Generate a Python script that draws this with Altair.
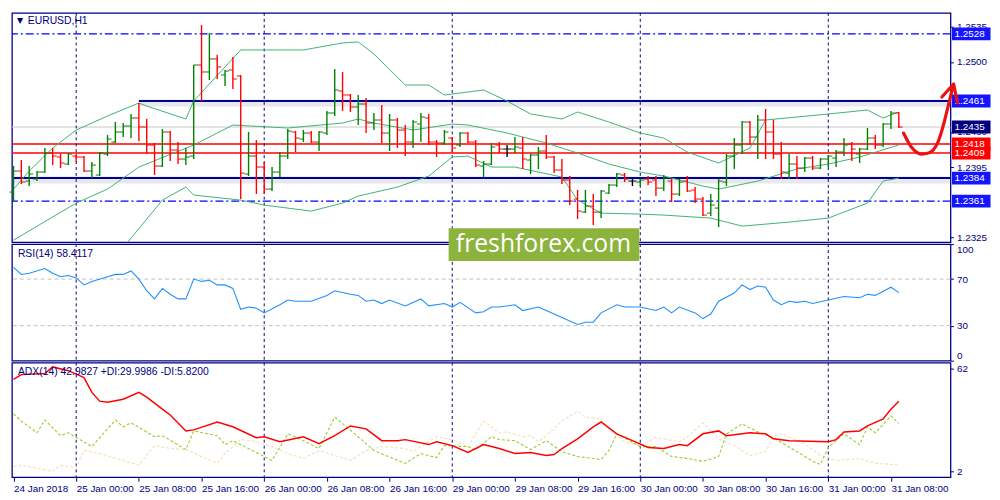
import json
import altair as alt
import pandas as pd

W = 950
H_PRICE, H_RSI, H_ADX = 232, 118, 116
NAVY = "#000080"
FONT = "Liberation Sans"

# ---------------- data ----------------
time_labels = ["24 Jan 2018", "25 Jan 00:00", "25 Jan 08:00", "25 Jan 16:00",
               "26 Jan 00:00", "26 Jan 08:00", "26 Jan 16:00", "29 Jan 00:00",
               "29 Jan 08:00", "29 Jan 16:00", "30 Jan 00:00", "30 Jan 08:00",
               "30 Jan 16:00", "31 Jan 00:00", "31 Jan 08:00"]
label_idx = [0, 8, 16, 24, 32, 40, 48, 56, 64, 72, 80, 88, 96, 104, 112]
day_breaks = [8, 32, 56, 80, 104]

bar_open = [1.2370, 1.2391, 1.2381, 1.2383, 1.2390, 1.2409, 1.2405, 1.2398, 1.2406, 1.2405,
            1.2391, 1.2387, 1.2408, 1.2420, 1.2430, 1.2436, 1.2444, 1.2435, 1.2417, 1.2396,
            1.2430, 1.2412, 1.2403, 1.2406, 1.2497, 1.2490, 1.2503, 1.2487, 1.2492, 1.2486,
            1.2388, 1.2406, 1.2395, 1.2373, 1.2390, 1.2406, 1.2430, 1.2423, 1.2429, 1.2420,
            1.2429, 1.2449, 1.2471, 1.2467, 1.2455, 1.2458, 1.2439, 1.2442, 1.2429, 1.2442,
            1.2432, 1.2420, 1.2438, 1.2444, 1.2420, 1.2419, 1.2424, 1.2417, 1.2429, 1.2420,
            1.2396, 1.2398, 1.2417, 1.2413, 1.2413, 1.2414, 1.2402, 1.2407, 1.2411, 1.2405,
            1.2392, 1.2382, 1.2363, 1.2350, 1.2356, 1.2350, 1.2369, 1.2377, 1.2387, 1.2381,
            1.2380, 1.2383, 1.2382, 1.2374, 1.2381, 1.2368, 1.2381, 1.2372, 1.2363, 1.2349,
            1.2354, 1.2380, 1.2406, 1.2417, 1.2440, 1.2425, 1.2442, 1.2430, 1.2408, 1.2389,
            1.2398, 1.2394, 1.2404, 1.2394, 1.2403, 1.2404, 1.2410, 1.2418, 1.2408, 1.2413,
            1.2424, 1.2417, 1.2438, 1.2449]
bar_high = [1.2396, 1.2402, 1.2396, 1.2391, 1.2414, 1.2414, 1.2408, 1.2409, 1.2408, 1.2406,
            1.2400, 1.2410, 1.2427, 1.2440, 1.2439, 1.2448, 1.2459, 1.2443, 1.2419, 1.2433,
            1.2431, 1.2420, 1.2414, 1.2497, 1.2537, 1.2529, 1.2507, 1.2492, 1.2505, 1.2487,
            1.2430, 1.2422, 1.2400, 1.2395, 1.2410, 1.2433, 1.2431, 1.2432, 1.2431, 1.2431,
            1.2451, 1.2493, 1.2490, 1.2468, 1.2467, 1.2464, 1.2449, 1.2457, 1.2448, 1.2444,
            1.2437, 1.2442, 1.2449, 1.2448, 1.2422, 1.2432, 1.2425, 1.2430, 1.2430, 1.2422,
            1.2401, 1.2419, 1.2420, 1.2417, 1.2425, 1.2425, 1.2408, 1.2415, 1.2427, 1.2406,
            1.2403, 1.2386, 1.2372, 1.2372, 1.2368, 1.2372, 1.2378, 1.2389, 1.2389, 1.2383,
            1.2383, 1.2386, 1.2386, 1.2387, 1.2383, 1.2383, 1.2386, 1.2375, 1.2365, 1.2368,
            1.2383, 1.2408, 1.2424, 1.2441, 1.2441, 1.2447, 1.2453, 1.2442, 1.2420, 1.2408,
            1.2406, 1.2405, 1.2406, 1.2404, 1.2407, 1.2412, 1.2424, 1.2420, 1.2414, 1.2434,
            1.2427, 1.2439, 1.2451, 1.2450]
bar_low = [1.2361, 1.2378, 1.2376, 1.2381, 1.2389, 1.2397, 1.2394, 1.2397, 1.2400, 1.2390,
           1.2384, 1.2386, 1.2406, 1.2419, 1.2425, 1.2424, 1.2421, 1.2408, 1.2387, 1.2395,
           1.2401, 1.2398, 1.2397, 1.2403, 1.2461, 1.2482, 1.2483, 1.2476, 1.2473, 1.2363,
           1.2386, 1.2368, 1.2368, 1.2371, 1.2385, 1.2403, 1.2410, 1.2420, 1.2419, 1.2411,
           1.2427, 1.2446, 1.2451, 1.2450, 1.2437, 1.2429, 1.2432, 1.2419, 1.2411, 1.2414,
           1.2406, 1.2414, 1.2420, 1.2417, 1.2405, 1.2417, 1.2410, 1.2415, 1.2419, 1.2395,
           1.2385, 1.2397, 1.2409, 1.2405, 1.2409, 1.2393, 1.2388, 1.2393, 1.2403, 1.2389,
           1.2378, 1.2357, 1.2343, 1.2349, 1.2337, 1.2344, 1.2368, 1.2375, 1.2380, 1.2376,
           1.2376, 1.2377, 1.2366, 1.2371, 1.2360, 1.2366, 1.2370, 1.2359, 1.2346, 1.2346,
           1.2335, 1.2376, 1.2393, 1.2408, 1.2417, 1.2403, 1.2403, 1.2403, 1.2383, 1.2383,
           1.2383, 1.2390, 1.2392, 1.2393, 1.2395, 1.2395, 1.2406, 1.2401, 1.2399, 1.2412,
           1.2413, 1.2415, 1.2433, 1.2434]
bar_close = [1.2391, 1.2380, 1.2388, 1.2390, 1.2409, 1.2406, 1.2399, 1.2408, 1.2405, 1.2391,
             1.2397, 1.2409, 1.2423, 1.2430, 1.2436, 1.2444, 1.2435, 1.2417, 1.2396, 1.2430,
             1.2412, 1.2403, 1.2405, 1.2497, 1.2490, 1.2503, 1.2495, 1.2491, 1.2483, 1.2389,
             1.2406, 1.2395, 1.2373, 1.2390, 1.2406, 1.2431, 1.2424, 1.2429, 1.2420, 1.2430,
             1.2449, 1.2472, 1.2467, 1.2455, 1.2458, 1.2439, 1.2442, 1.2429, 1.2442, 1.2432,
             1.2420, 1.2440, 1.2445, 1.2420, 1.2419, 1.2430, 1.2414, 1.2429, 1.2420, 1.2397,
             1.2398, 1.2415, 1.2413, 1.2413, 1.2415, 1.2403, 1.2407, 1.2411, 1.2405, 1.2392,
             1.2382, 1.2361, 1.2351, 1.2356, 1.2350, 1.2371, 1.2377, 1.2388, 1.2383, 1.2381,
             1.2382, 1.2380, 1.2374, 1.2384, 1.2368, 1.2380, 1.2371, 1.2363, 1.2347, 1.2357,
             1.2381, 1.2406, 1.2417, 1.2440, 1.2425, 1.2442, 1.2430, 1.2408, 1.2390, 1.2398,
             1.2394, 1.2404, 1.2394, 1.2403, 1.2406, 1.2410, 1.2417, 1.2413, 1.2413, 1.2424,
             1.2417, 1.2438, 1.2449, 1.2435]

bb_up_idx = [0, 2, 5, 8, 12, 16, 17, 22, 23, 29, 37, 42, 44, 46, 50, 53, 55, 60, 63, 66,
             70, 72, 76, 80, 83, 86, 90, 94, 96, 104, 109, 111, 113]
bb_up_val = [1.2373, 1.2391, 1.2414, 1.2432, 1.2446, 1.2459, 1.2456, 1.2443, 1.2461, 1.2512,
             1.2512, 1.2519, 1.2520, 1.2508, 1.2477, 1.2477, 1.2467, 1.2472, 1.2461, 1.2448,
             1.2443, 1.2450, 1.2440, 1.2429, 1.2424, 1.2410, 1.2399, 1.2414, 1.2442, 1.2448,
             1.2452, 1.2444, 1.2450]
bb_mid_idx = [0, 8, 12, 16, 23, 28, 35, 42, 44, 46, 51, 56, 58, 63, 68, 72, 76, 80, 83, 88,
              90, 95, 100, 104, 108, 113]
bb_mid_val = [1.2322, 1.2359, 1.2373, 1.2395, 1.2417, 1.2437, 1.2434, 1.2439, 1.2443, 1.2439,
              1.2432, 1.2438, 1.2437, 1.2429, 1.2419, 1.2409, 1.2398, 1.2390, 1.2386, 1.2376,
              1.2373, 1.2381, 1.2393, 1.2398, 1.2405, 1.2417]
bb_low_idx = [13, 19, 22, 23, 29, 32, 38, 42, 44, 49, 53, 56, 58, 61, 64, 70, 72, 75, 80, 83,
              89, 93, 99, 104, 109, 111, 113]
bb_low_val = [1.2305, 1.2362, 1.2375, 1.2367, 1.2362, 1.2357, 1.2351, 1.2359, 1.2366, 1.2375,
              1.2386, 1.2405, 1.2406, 1.2395, 1.2395, 1.2385, 1.2362, 1.2349, 1.2348, 1.2347,
              1.2344, 1.2336, 1.2340, 1.2344, 1.2359, 1.2381, 1.2384]

rsi_idx = [0, 1, 2, 4, 5, 6, 7, 8, 9, 10, 12, 13, 14, 15, 16, 17, 18, 19, 20, 21,
           22, 23, 24, 25, 26, 27, 28, 29, 30, 31, 32, 34, 35, 36, 38, 40, 41, 43, 44, 45,
           46, 47, 48, 50, 52, 53, 55, 56, 57, 59, 60, 61, 62, 64, 65, 67, 68, 70, 72, 73,
           74, 75, 77, 78, 80, 82, 83, 84, 85, 87, 88, 89, 90, 92, 93, 94, 95, 96, 97, 98,
           99, 100, 101, 102, 104, 106, 108, 109, 110, 112, 113]
rsi_val = [80, 74, 75, 79, 75, 72, 73, 71, 65, 68, 72, 74, 74, 77, 70, 60, 53, 62, 57, 53,
           53, 70, 68, 69, 65, 65, 62, 44, 46, 45, 41, 48, 52, 51, 51, 56, 60, 57, 56, 51,
           52, 49, 52, 47, 53, 47, 49, 46, 50, 41, 42, 46, 46, 48, 43, 46, 43, 37, 31, 33,
           33, 41, 48, 46, 46, 43, 46, 41, 46, 41, 36, 40, 51, 58, 65, 61, 64, 63, 52, 48,
           51, 50, 51, 49, 52, 55, 54, 57, 56, 63, 58.41]

adx_idx = [0, 1, 4, 5, 7, 9, 10, 11, 12, 14, 16, 17, 19, 20, 22, 23, 26, 28, 31, 32,
           34, 37, 39, 41, 43, 45, 47, 49, 50, 53, 54, 56, 58, 60, 62, 64, 66, 68, 69, 70,
           72, 74, 75, 77, 79, 81, 83, 85, 86, 88, 90, 91, 94, 96, 97, 99, 104, 105, 106, 108,
           109, 111, 112, 113]
adx_val = [55.7, 58.5, 59.1, 63, 60.8, 56.8, 48.1, 43, 42.4, 44.1, 48.1, 45.3, 38.3, 34.9, 25.6,
           26.2, 30.8, 28, 21.6, 22.2, 19.3, 22.2, 18.1, 22.8, 28.5, 26.8, 19.9, 19.9, 20.5, 17.6,
           19.3, 17, 13, 17.6, 15.3, 12.4, 13, 11.2, 11.8, 15.3, 21, 28, 30.8, 23.9, 19.9,
           15.9, 15.3, 17.6, 17, 23.9, 25.6, 22.8, 24.5, 23.9, 21, 19.9, 19.3, 20.5, 25, 25.6,
           28.5, 32.6, 38.3, 42.98]
pdi_idx = [0, 1, 3, 4, 6, 7, 10, 13, 14, 15, 18, 19, 22, 23, 26, 27, 28, 32, 33, 35,
           37, 39, 41, 44, 46, 50, 52, 54, 55, 58, 59, 61, 62, 64, 66, 68, 70, 72, 75, 76,
           77, 80, 82, 84, 86, 88, 90, 91, 93, 95, 97, 100, 102, 103, 104, 106, 108, 109, 110, 112,
           113]
pdi_val = [35.5, 31.4, 24.5, 32, 22.8, 24.5, 16.4, 32, 28, 30.3, 22.2, 22.8, 14.7, 25.6, 22.8,
           17.6, 19.9, 10.6, 8.3, 23.9, 19.9, 15.3, 33.7, 22.2, 14.1, 6.6, 12.4, 10, 17, 16.4,
           14.7, 22.2, 20.5, 19.9, 14.7, 19.9, 13.5, 10.6, 8.9, 14.1, 23.9, 16.4, 16.4, 10.6, 9.5,
           7.8, 10.6, 23.9, 29.7, 25, 21.6, 13.5, 7.8, 6, 15.9, 23.9, 17.6, 28, 24.5, 34.3,
           30.0]
mdi_idx = [0, 1, 5, 6, 8, 9, 11, 14, 16, 18, 20, 22, 24, 26, 27, 29, 31, 33, 35, 37,
           39, 41, 43, 45, 47, 50, 51, 54, 56, 58, 60, 62, 63, 65, 66, 67, 69, 70, 72, 73,
           75, 76, 78, 80, 82, 85, 86, 88, 90, 92, 94, 96, 97, 98, 101, 103, 105, 108, 110, 113]
mdi_val = [4.9, 5.5, 2, 5.5, 4.3, 14.1, 12.4, 8.3, 5.5, 17, 15.3, 14.7, 10.6, 6.6, 12.4,
           20.5, 19.3, 16.4, 12.4, 9.5, 14.1, 11.2, 8.3, 14.1, 16.4, 15.3, 13.5, 22.2, 20.5, 16.4,
           31.4, 24.5, 25, 22.2, 22.8, 19.3, 26.8, 31.4, 37.2, 33.7, 32.6, 26.8, 19.3, 17, 21.6,
           19.3, 22.2, 30.3, 21, 17, 11.2, 13.5, 22.2, 23.9, 18.1, 11.2, 8.3, 9.5, 6.6, 5.82]

dashdot_levels = [1.2528, 1.2361]
thick_levels = [1.2461, 1.2384]
thick_start = [16, 0]
red_levels = [1.2418, 1.2409]
bid_level = 1.2435

box_prices = [1.2528, 1.2461, 1.2435, 1.2418, 1.2409, 1.2384, 1.2361]
box_colors = ["#1414ff", "#1414ff", "#000080", "#ff0000", "#ff0000", "#1414ff", "#1414ff"]
price_ticks = [1.2325, 1.2395, 1.2430, 1.2500, 1.2535]

arrow_idx = [113.6, 114.6, 115.9, 116.8, 118.0, 118.8, 119.3, 119.9]
arrow_val = [1.2429, 1.2415, 1.2408, 1.2409, 1.2420, 1.2440, 1.2456, 1.2475]
head_idx = [118.5, 120.0, 120.5]
head_val = [1.2465, 1.2478, 1.2459]

# ---------------- frames ----------------
n = len(bar_open)
bars = pd.DataFrame({"i": list(range(n)), "open": bar_open, "high": bar_high,
                     "low": bar_low, "close": bar_close})
bars["dir"] = ["up" if c > o else ("down" if c < o else "flat")
               for o, c in zip(bar_open, bar_close)]
bands = pd.concat([
    pd.DataFrame({"i": bb_up_idx, "p": bb_up_val, "band": "up"}),
    pd.DataFrame({"i": bb_mid_idx, "p": bb_mid_val, "band": "mid"}),
    pd.DataFrame({"i": bb_low_idx, "p": bb_low_val, "band": "low"}),
])

x_scale = alt.Scale(domain=[-0.2, 119.6], nice=False, zero=False)
p_scale = alt.Scale(domain=[1.2320, 1.2549], nice=False, zero=False)
dir_scale = alt.Scale(domain=["up", "down", "flat"], range=["#008000", "#ff0000", "#000000"])

price_axis = alt.Axis(orient="right", values=price_ticks, format=".4f", title=None,
                      tickSize=3, labelPadding=3, domain=False, grid=False)
IX = alt.X("i:Q", scale=x_scale, axis=None)
PY = alt.Y("p:Q", scale=p_scale, axis=price_axis)

def ydir(field):
    return alt.Y(f"{field}:Q", scale=p_scale, axis=price_axis)

grid_df = pd.DataFrame({"i": day_breaks})

def vgrid():
    return alt.Chart(grid_df).mark_rule(color=NAVY, strokeDash=[3, 3], strokeWidth=1).encode(x=IX)

# ---------------- price panel ----------------
shadow = alt.Chart(pd.DataFrame({"i": thick_start, "i2": [119.6, 119.6], "p": thick_levels})).mark_rule(
    color="#808080", strokeWidth=7, opacity=0.18, yOffset=2).encode(x=IX, x2="i2:Q", y=PY)
thick = alt.Chart(pd.DataFrame({"i": thick_start, "i2": [119.6, 119.6], "p": thick_levels})).mark_rule(
    color="#0000a0", strokeWidth=2).encode(x=IX, x2="i2:Q", y=PY)
dashdot = alt.Chart(pd.DataFrame({"p": dashdot_levels})).mark_rule(
    color="#0000ff", strokeWidth=1.2, strokeDash=[8, 3, 2, 3]).encode(y=PY)
redl = alt.Chart(pd.DataFrame({"p": red_levels})).mark_rule(color="#ff0000", strokeWidth=1.5).encode(y=PY)
bid = alt.Chart(pd.DataFrame({"p": [bid_level]})).mark_rule(color="#c8c8c8", strokeWidth=1).encode(y=PY)
bb = alt.Chart(bands).mark_line(color="#3cb371", strokeWidth=1, clip=True).encode(
    x=IX, y=PY, detail="band:N")
wick = alt.Chart(bars).mark_rule(strokeWidth=1.4, clip=True).encode(
    x=IX, y=ydir("low"), y2="high:Q", color=alt.Color("dir:N", scale=dir_scale, legend=None))
otick = alt.Chart(bars).mark_tick(orient="horizontal", size=4, thickness=1.4, xOffset=-2).encode(
    x=IX, y=ydir("open"), color=alt.Color("dir:N", scale=dir_scale, legend=None))
ctick = alt.Chart(bars).mark_tick(orient="horizontal", size=4, thickness=1.4, xOffset=2).encode(
    x=IX, y=ydir("close"), color=alt.Color("dir:N", scale=dir_scale, legend=None))
arrow = alt.Chart(pd.DataFrame({"i": arrow_idx, "p": arrow_val})).mark_line(
    color="#ee1111", strokeWidth=3.2, strokeCap="round", strokeJoin="round", interpolate="monotone",
    clip=False).encode(x=IX, y=PY)
head = alt.Chart(pd.DataFrame({"i": head_idx, "p": head_val})).mark_line(
    color="#ee1111", strokeWidth=3.2, strokeCap="round", strokeJoin="round", clip=False).encode(x=IX, y=PY)
boxes = alt.Chart(pd.DataFrame({"p": box_prices, "c": box_colors})).mark_point(
    shape="M-1.5,-0.5H1.5V0.5H-1.5Z", size=676, filled=True, opacity=1, strokeWidth=0).encode(
    x=alt.value(W + 21), y=PY, color=alt.Color("c:N", scale=None))
boxtext = alt.Chart(pd.DataFrame({"p": box_prices})).mark_text(
    align="left", baseline="middle", color="white", fontSize=10, font=FONT).encode(
    x=alt.value(W + 4), y=PY, text=alt.Text("p:Q", format=".4f"))
tri = alt.Chart(pd.DataFrame({"t": ["▼"]})).mark_text(
    align="left", baseline="middle", fontSize=8, color=NAVY, font="DejaVu Sans").encode(
    x=alt.value(5), y=alt.value(8), text="t:N")
ptitle = alt.Chart(pd.DataFrame({"t": ["EURUSD,H1"]})).mark_text(
    align="left", baseline="middle", fontSize=10.5, color=NAVY, font=FONT).encode(
    x=alt.value(16), y=alt.value(8), text="t:N")

price = alt.layer(shadow, dashdot, bid, redl, thick, vgrid(), bb, wick, otick, ctick,
                  boxes, boxtext, arrow, head, tri, ptitle).properties(width=W, height=H_PRICE)

# ---------------- RSI panel ----------------
r_scale = alt.Scale(domain=[0, 100], nice=False, zero=False)
r_axis = alt.Axis(orient="right", values=[0, 30, 70, 100], title=None, tickSize=3,
                  labelPadding=3, labelFlush=True, domain=False, grid=False)
RY = alt.Y("v:Q", scale=r_scale, axis=r_axis)
rlev = alt.Chart(pd.DataFrame({"v": [30, 70]})).mark_rule(
    color="#c0c0c0", strokeDash=[4, 3], strokeWidth=1).encode(y=RY)
rline = alt.Chart(pd.DataFrame({"i": rsi_idx, "v": rsi_val})).mark_line(
    color="#1e90ff", strokeWidth=1.1).encode(x=IX, y=RY)
rtitle = alt.Chart(pd.DataFrame({"t": ["RSI(14) 58.4117"]})).mark_text(
    align="left", baseline="middle", fontSize=10.5, color=NAVY, font=FONT).encode(
    x=alt.value(6), y=alt.value(10), text="t:N")
wm_box = alt.Chart(pd.DataFrame({"t": ["freshforex.com"]})).mark_rect(
    color="#8cb33c", clip=False).encode(
    x=alt.value(442), x2=alt.value(635), y=alt.value(-16), y2=alt.value(17))
wm_text = alt.Chart(pd.DataFrame({"t": ["freshforex.com"]})).mark_text(
    align="center", baseline="middle", fontSize=25, color="white", font="Open Sans").encode(
    x=alt.value(538), y=alt.value(0), text="t:N")
rsi = alt.layer(rlev, vgrid(), rline, rtitle, wm_box, wm_text).properties(width=W, height=H_RSI)

# ---------------- ADX panel ----------------
a_scale = alt.Scale(domain=[-1.5, 65.5], nice=False, zero=False)
a_axis = alt.Axis(orient="right", values=[2, 62], title=None, tickSize=3,
                  labelPadding=3, domain=False, grid=False)
AY = alt.Y("v:Q", scale=a_scale, axis=a_axis)
label_expr = json.dumps(time_labels) + "[round(datum.value / 8)]"
x_axis = alt.Axis(values=label_idx, labelExpr=label_expr, labelAlign="left", labelPadding=2,
                  tickSize=4, domain=False, grid=False, title=None, labelFlush=False,
                  labelOverlap=False)
AX = alt.X("i:Q", scale=x_scale, axis=x_axis)
mdi = alt.Chart(pd.DataFrame({"i": mdi_idx, "v": mdi_val})).mark_line(
    color="#f5deb3", strokeDash=[3, 2], strokeWidth=1.1).encode(x=AX, y=AY)
pdi = alt.Chart(pd.DataFrame({"i": pdi_idx, "v": pdi_val})).mark_line(
    color="#9acd32", strokeDash=[3, 2], strokeWidth=1.1).encode(x=AX, y=AY)
adxl = alt.Chart(pd.DataFrame({"i": adx_idx, "v": adx_val})).mark_line(
    color="#ff0000", strokeWidth=1.5, clip=True).encode(x=AX, y=AY)
agrid = alt.Chart(grid_df).mark_rule(color=NAVY, strokeDash=[3, 3], strokeWidth=1).encode(x=AX)
atitle = alt.Chart(pd.DataFrame({"t": ["ADX(14) 42.9827 +DI:29.9986 -DI:5.8200"]})).mark_text(
    align="left", baseline="middle", fontSize=10.5, color=NAVY, font=FONT).encode(
    x=alt.value(6), y=alt.value(9), text="t:N")
adx = alt.layer(agrid, mdi, pdi, adxl, atitle).properties(width=W, height=H_ADX)

chart = alt.vconcat(price, rsi, adx, spacing=2, bounds="flush").resolve_scale(y="independent").properties(
    padding=0, background="white"
).configure_view(stroke=NAVY, strokeWidth=1.3).configure_axis(
    labelFont=FONT, labelFontSize=10, labelColor=NAVY, tickColor=NAVY
)

chart.save("out.html", embed_options={"renderer": "svg", "actions": False})
